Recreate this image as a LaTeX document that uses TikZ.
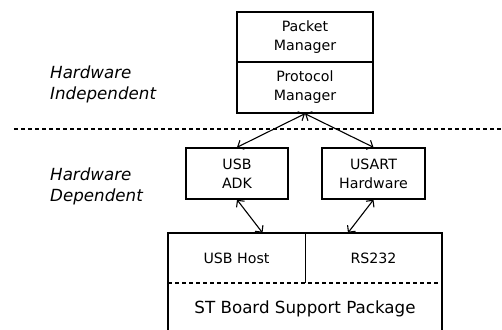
\documentclass[tikz,border=0pt]{standalone}
\usepackage{fontspec}
\setmainfont{DejaVu Sans}
\usetikzlibrary{arrows.meta}
\begin{document}
\begin{tikzpicture}[x=1pt,y=-1pt,
  lw/.style={line width=1.4pt},
  box/.style={draw,lw,minimum height=50pt,inner sep=0pt,align=center,font=\fontsize{14.2}{19}\selectfont},
  cell/.style={inner sep=0pt,align=center,font=\fontsize{14.2}{19}\selectfont},
  side/.style={inner sep=0pt,align=left,anchor=west,font=\fontsize{16.7}{21}\selectfont\itshape},
  conn/.style={line width=1.1pt,{Straight Barb[length=5pt,width=10pt]}-{Straight Barb[length=5pt,width=10pt]}},
  sep/.style={line width=1.3pt,dash pattern=on 4pt off 3pt}]
\useasboundingbox (0,0) rectangle (502,329);
\clip (0,0) rectangle (502,329);
% top stack
\node[box,minimum width=136pt] (packet) at (305,37) {Packet\\Manager};
\node[box,minimum width=136pt,minimum height=51pt] (protocol) at (305,87.5) {Protocol\\Manager};
% side labels
\node[side] (indep) at (50,84) {Hardware\\Independent};
\node[side] (dep) at (50,186.5) {Hardware\\Dependent};
% separator
\coordinate (sepL) at (14,129);
\coordinate (sepR) at (502,129);
\draw[sep] (sepL) -- (sepR);
% middle boxes
\node[box,minimum width=102pt,minimum height=51pt] (adk) at (237,173.5) {USB\\ADK};
\node[box,minimum width=103pt,minimum height=51pt] (usart) at (373.5,173.5) {USART\\Hardware};
% bottom package
\draw[lw] (168,340) -- (168,233) -- (442,233) -- (442,340);
\node[cell,minimum width=137pt,minimum height=50pt] (usbhost) at (236.5,258) {USB Host};
\node[cell,minimum width=137pt,minimum height=50pt] (rs232) at (373.5,258) {RS232};
\draw[lw] (usbhost.north east) -- (usbhost.south east);
\draw[sep] (168,283) -- (442,283);
\node[inner sep=0pt,font=\fontsize{16.7}{21}\selectfont] (bsp) at (305,309) {ST Board Support Package};
% connectors
\draw[conn] (protocol.south) -- (adk.north);
\draw[conn] (protocol.south) -- (usart.north);
\draw[conn] (adk.south) -- ([xshift=26pt]usbhost.north);
\draw[conn] (usart.south) -- ([xshift=-25.5pt]rs232.north);
\end{tikzpicture}
\end{document}
